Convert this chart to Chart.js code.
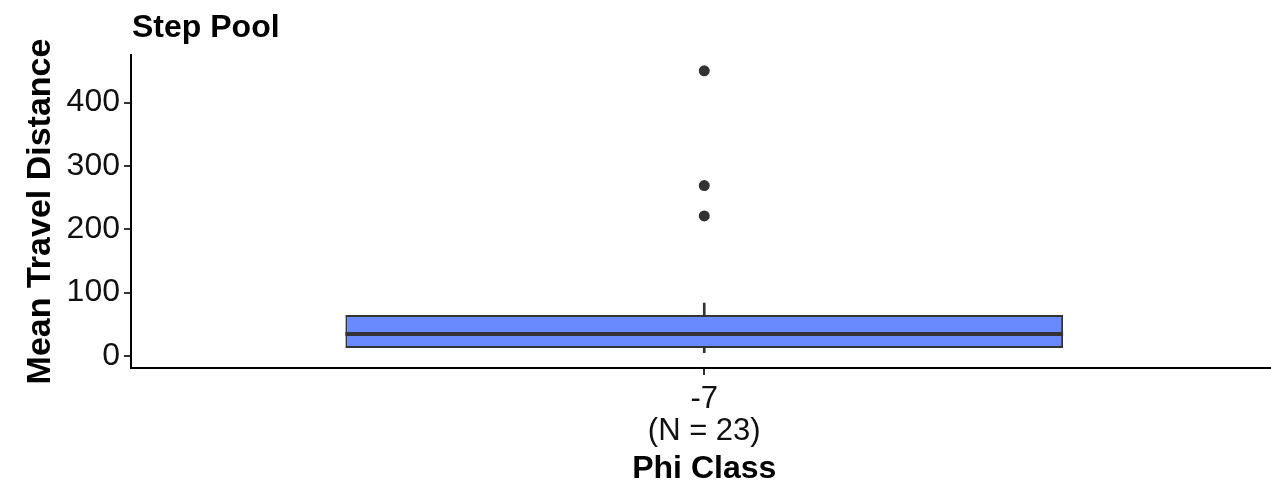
<!DOCTYPE html>
<html>
<head>
<meta charset="utf-8">
<script src="https://cdn.jsdelivr.net/npm/chart.js@4.4.0/dist/chart.umd.min.js"></script>
<style>
  html, body { margin: 0; padding: 0; background: #fff; overflow: hidden; }
  #wrap { width: 1283px; height: 485px; }
</style>
</head>
<body>
<div id="wrap"><canvas id="chart"></canvas></div>
<script>
  // box plot summary for the single phi class
  const categories = [['-7', '(N = 23)']];
  const lowerWhisker = [5];
  const q1 = [12.6];
  const median = [34.7];
  const q3 = [64.7];
  const upperWhisker = [83.6];
  const outliers = [450, 269, 221];
  const yTicks = [0, 100, 200, 300, 400];

  const FONT = "'Liberation Sans', Arial, sans-serif";
  const DARK = '#333333';

  // median line across the box, drawn from the box element's geometry
  const medianLine = {
    id: 'medianLine',
    afterDatasetsDraw(chart) {
      const meta = chart.getDatasetMeta(2);
      const ctx = chart.ctx;
      const yScale = chart.scales.y;
      meta.data.forEach((el, i) => {
        const { x, width } = el.getProps(['x', 'width'], true);
        const y = yScale.getPixelForValue(median[i]);
        ctx.save();
        ctx.strokeStyle = DARK;
        ctx.lineWidth = 4;
        ctx.beginPath();
        ctx.moveTo(x - width / 2, y);
        ctx.lineTo(x + width / 2, y);
        ctx.stroke();
        ctx.restore();
      });
    }
  };

  const plotTitle = {
    id: 'plotTitle',
    afterDraw(chart) {
      const ctx = chart.ctx;
      ctx.save();
      ctx.font = 'bold 32px ' + FONT;
      ctx.fillStyle = '#000';
      ctx.textAlign = 'left';
      ctx.textBaseline = 'middle';
      ctx.fillText('Step Pool', chart.chartArea.left + 1, 28);
      ctx.restore();
    }
  };

  new Chart(document.getElementById('chart'), {
    type: 'bar',
    data: {
      labels: categories,
      datasets: [
        {
          label: 'upper whisker',
          data: q3.map((v, i) => [v, upperWhisker[i]]),
          backgroundColor: DARK,
          barThickness: 2,
          grouped: false
        },
        {
          label: 'lower whisker',
          data: q1.map((v, i) => [lowerWhisker[i], v]),
          backgroundColor: DARK,
          barThickness: 2,
          grouped: false
        },
        {
          label: 'box',
          data: q1.map((v, i) => [v, q3[i]]),
          backgroundColor: '#6889FF',
          borderColor: DARK,
          borderWidth: 2,
          borderSkipped: false,
          categoryPercentage: 1,
          barPercentage: 0.626,
          grouped: false
        },
        {
          type: 'scatter',
          label: 'outliers',
          data: outliers.map((v) => ({ x: 0, y: v })),
          backgroundColor: DARK,
          borderWidth: 0,
          pointRadius: 5.5
        }
      ]
    },
    options: {
      responsive: true,
      maintainAspectRatio: false,
      animation: false,
      layout: { padding: { top: 55, left: 0, right: 0, bottom: 0 } },
      plugins: {
        legend: { display: false },
        tooltip: { enabled: false }
      },
      scales: {
        x: {
          type: 'category',
          offset: true,
          grid: {
            display: true,
            drawOnChartArea: false,
            offset: false,
            tickLength: 7,
            color: DARK,
            lineWidth: 2
          },
          border: { display: true, color: '#000', width: 2 },
          ticks: {
            color: '#111',
            font: { family: FONT, size: 31, lineHeight: 1.05 },
            padding: 8,
            maxRotation: 0
          },
          title: {
            display: true,
            text: 'Phi Class',
            color: '#000',
            font: { family: FONT, size: 32, weight: 'bold', lineHeight: 1.0 },
            padding: 0
          },
          afterFit: (s) => { s.height = 117; }
        },
        y: {
          min: -19,
          max: 475,
          grid: {
            display: true,
            drawOnChartArea: false,
            tickLength: 7,
            color: DARK,
            lineWidth: 2
          },
          border: { display: true, color: '#000', width: 2 },
          ticks: {
            color: '#111',
            font: { family: FONT, size: 32 },
            padding: 4
          },
          afterBuildTicks: (s) => { s.ticks = yTicks.map((v) => ({ value: v })); },
          title: {
            display: true,
            text: 'Mean Travel Distance',
            color: '#000',
            font: { family: FONT, size: 34, weight: 'bold', lineHeight: 1.2 },
            padding: { top: 20, bottom: 0 }
          },
          afterFit: (s) => { s.width = 131; }
        }
      }
    },
    plugins: [medianLine, plotTitle]
  });
</script>
</body>
</html>
